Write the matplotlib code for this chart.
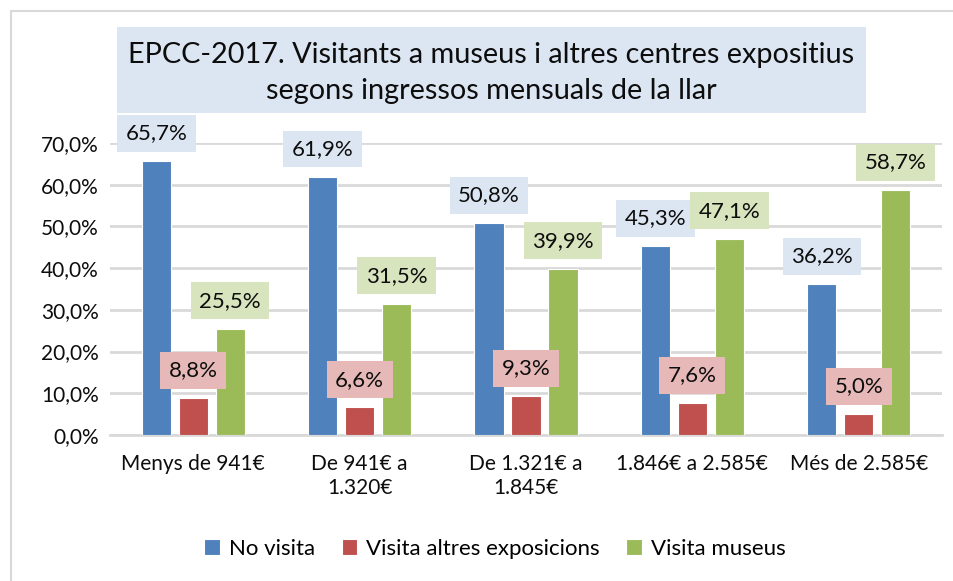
import matplotlib.pyplot as plt
import numpy as np
from matplotlib.patches import Rectangle
from matplotlib.ticker import FuncFormatter

plt.rcParams["font.family"] = ["Lato", "DejaVu Sans"]

CATEGORIES = ["Menys de 941€", "De 941€ a\n1.320€", "De 1.321€ a\n1.845€",
              "1.846€ a 2.585€", "Més de 2.585€"]
SERIES = ["No visita", "Visita altres exposicions", "Visita museus"]
NO_VISITA = [65.7, 61.9, 50.8, 45.3, 36.2]
ALTRES = [8.8, 6.6, 9.3, 7.6, 5.0]
MUSEUS = [25.5, 31.5, 39.9, 47.1, 58.7]

COLORS = ["#4f81bd", "#c0504d", "#9bbb59"]
BOXES = ["#dce6f2", "#e6b9b8", "#d7e4bd"]
GRID = "#d9d9d9"
INK = "#0d0d0d"

fig = plt.figure(figsize=(9.54, 5.81), dpi=100)
ax = fig.add_axes([110 / 954, 146 / 581, 832 / 954, 292 / 581])

# outer chart border
fig.patches.append(Rectangle((11 / 954, -0.1), 2, 1.1 - 11 / 581, transform=fig.transFigure,
                             fill=False, edgecolor=GRID, linewidth=1.5))

x = np.arange(len(CATEGORIES))
w = 0.175
step = 0.222
for i, (vals, col, box) in enumerate(zip([NO_VISITA, ALTRES, MUSEUS], COLORS, BOXES)):
    xs = x + (i - 1) * step
    ax.bar(xs, vals, width=w, color=col, edgecolor="white", linewidth=0.8,
           label=SERIES[i], zorder=3)
    for xi, v in zip(xs, vals):
        ax.annotate(f"{v:.1f}%".replace(".", ","), (xi, v), textcoords="offset points",
                    xytext=(0, 20), ha="center", va="center", fontsize=16, color=INK,
                    annotation_clip=False,
                    bbox=dict(boxstyle="square,pad=0.38", fc=box, ec="none"), zorder=4)

ax.set_xlim(-0.5, 4.5)
ax.set_ylim(0, 70)
ax.set_yticks(np.arange(0, 71, 10))
ax.yaxis.set_major_formatter(FuncFormatter(lambda v, p: f"{v:.1f}%".replace(".", ",")))
ax.set_xticks(x, CATEGORIES)
ax.tick_params(axis="both", length=0, labelsize=15, colors=INK, pad=8)
ax.tick_params(axis="x", pad=14)
ax.grid(axis="y", color=GRID, linewidth=2, zorder=0)
for s in ["top", "right", "left"]:
    ax.spines[s].set_visible(False)
ax.spines["bottom"].set_color(GRID)
ax.spines["bottom"].set_linewidth(2)

# title box
fig.patches.append(Rectangle((117 / 954, 1 - 113 / 581), 749 / 954, 86 / 581,
                             transform=fig.transFigure, fc="#dce6f2", ec="none"))
fig.text(491 / 954, 1 - 73 / 581,
         "EPCC-2017. Visitants a museus i altres centres expositius\nsegons ingressos mensuals de la llar",
         ha="center", va="center", fontsize=20.8, color=INK, linespacing=1.45)

fig.legend(loc="center", bbox_to_anchor=(495 / 954, 32 / 581), ncol=3, frameon=False,
           fontsize=16, handlelength=0.7, handleheight=0.7, handletextpad=0.4,
           columnspacing=1.2)

fig.savefig("out.png", dpi=100)
